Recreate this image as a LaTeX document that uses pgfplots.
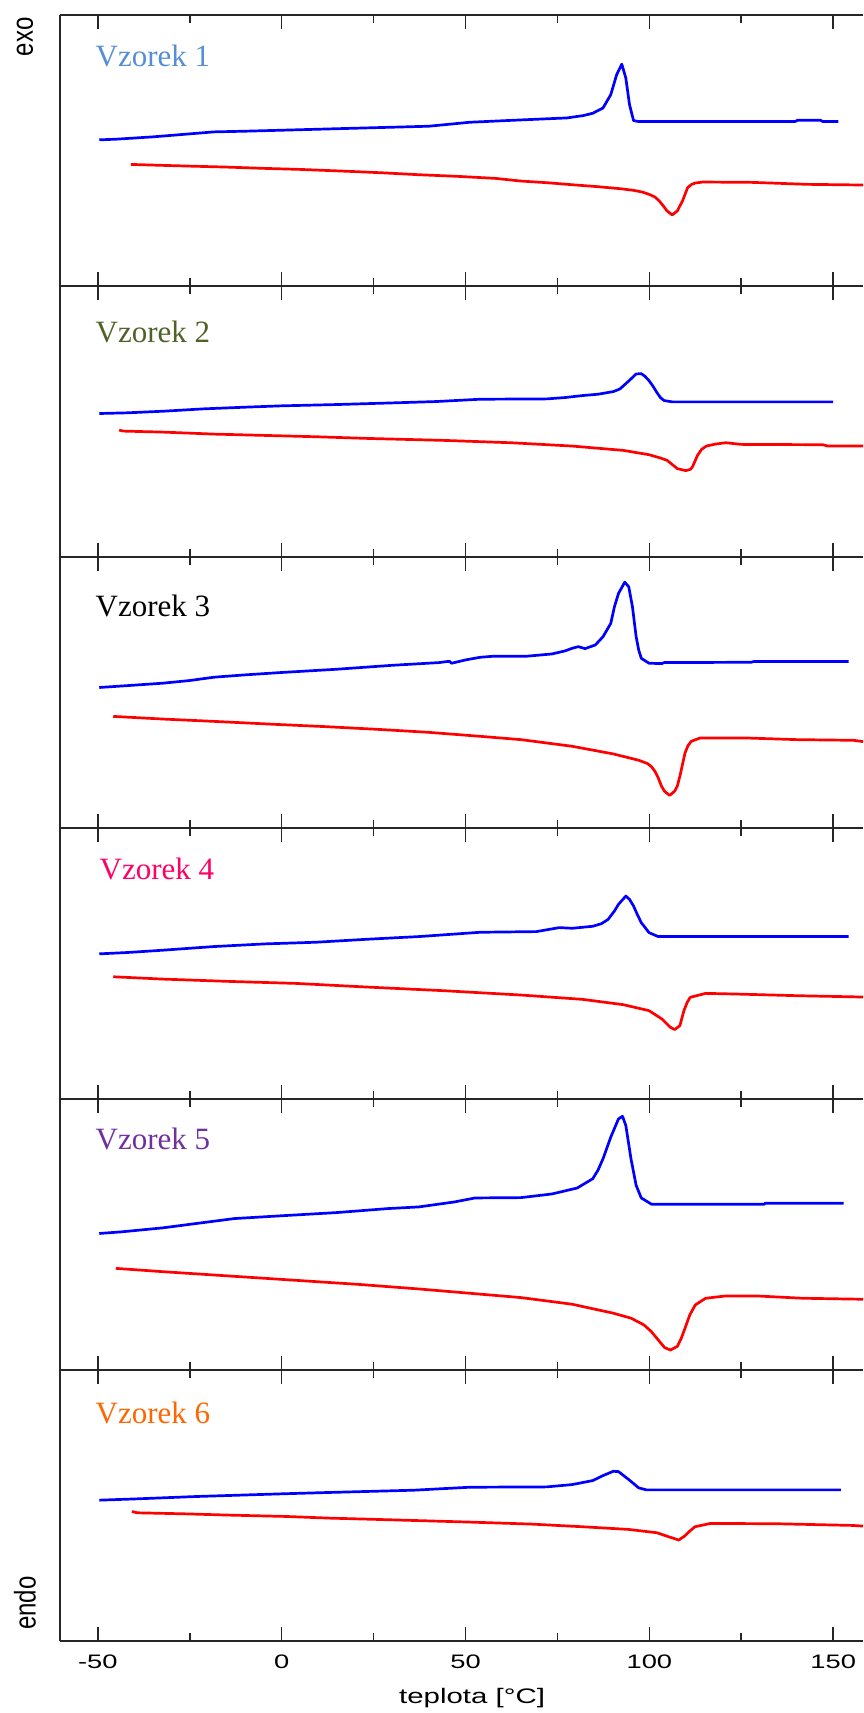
\documentclass[border=0pt]{standalone}
\usepackage{pgfplots}
\pgfplotsset{compat=1.18}
\usepackage{fontspec}
\setmainfont{Liberation Serif}
\newfontfamily\ticksans[FakeStretch=1.4]{Liberation Sans}
\newfontfamily\plainsans{Liberation Sans}
\definecolor{cA}{HTML}{558ED5}
\definecolor{cB}{HTML}{4F6228}
\definecolor{cC}{HTML}{000000}
\definecolor{cD}{HTML}{FF0066}
\definecolor{cE}{HTML}{7030A0}
\definecolor{cF}{HTML}{FF6600}
\tikzset{lab/.style={anchor=base west, inner sep=0pt, font=\fontsize{15.5}{18}\selectfont}}
\pgfplotsset{
  panel/.style={
    scale only axis, width=401.35pt, height=135.5pt,
    anchor=south west,
    clip mode=individual,
    xmin=-60.2, xmax=158.1, ymin=0, ymax=816,
    ytick=\empty,
    xtick={-50,0,50,100,150},
    minor xtick={-25,25,75,125},
    xticklabels={},
    axis y line*=left,
    axis line style={line width=0.8pt, color=black!85},
    tick align=inside,
    major tick length=7pt,
    minor tick length=4pt,
    every tick/.style={line width=0.8pt, color=black!85},
  },
  blu/.style={color=blue, line width=1.35pt, line join=round, no marks},
  rd/.style={color=red, line width=1.35pt, line join=round, no marks},
}
\begin{document}
\begin{tikzpicture}
\useasboundingbox (0,0) rectangle (431.5pt,856.5pt);
% ---------- Vzorek 1
\begin{axis}[panel, at={(30.15pt,713.5pt)}]
\addplot[blu] coordinates {(-49.6,440)(-45,442)(-35,449)(-25,458)(-18.4,464)(-10,466)(0.1,469)(10,472)(23.3,476)(40,481)(51.2,493)(65.1,500)(77.6,506)(82,513)(84.6,520)(87.4,536)(89.5,576)(91.1,636)(92.5,668)(93.6,626)(94.6,546)(95.7,498)(97.1,495)(139.6,495)(140.3,499)(146.5,499)(147.2,495)(151.4,495)};
\addplot[rd] coordinates {(-41,366)(-35,364)(-25.4,361)(-15,358)(-4.5,354)(5,351)(16.4,346)(27,341)(37.3,335)(48,330)(58.1,324)(65,316)(72.1,311)(80,304)(86,299)(92,293)(95.7,288)(98,283)(99.9,276)(101.5,268)(102.7,256)(103.8,241)(104.8,226)(106.2,214)(107.6,226)(108.3,241)(109,256)(109.7,276)(110.4,296)(111.5,306)(112.5,310)(114.5,313)(127.7,312)(133,310)(143,306)(158.1,304)};
\node[lab, text=cA] at (rel axis cs:0.0436,0.809) {Vzorek 1};
\node[rotate=90, inner sep=0pt, font=\plainsans\fontsize{12}{14}\selectfont] at (rel axis cs:-0.044,0.919) {\scalebox{1}[1.25]{exo}};
\end{axis}
% ---------- Vzorek 2
\begin{axis}[panel, at={(30.15pt,578pt)}]
\addplot[blu] coordinates {(-49.6,432)(-42.1,434)(-32,439)(-21.2,446)(-10,451)(-0.3,455)(15,459)(30.3,464)(42,468)(54,475)(72.1,476)(77,480)(81.8,486)(86,490)(90.2,498)(92,506)(93,516)(94.5,531)(96.4,551)(97.8,552)(98.8,544)(99.9,531)(101,514)(102,496)(103,480)(104,471)(106.2,467)(150,467)};
\addplot[rd] coordinates {(-44.2,382)(-43,379)(-32.3,376)(-18.4,370)(-4.5,366)(9.4,362)(23.3,357)(44.2,351)(62.3,344)(79,334)(92.9,321)(99.9,308)(103,298)(104.8,291)(106.5,276)(107.6,266)(109.9,260)(111.2,264)(111.7,271)(112.5,291)(113.1,306)(114.2,324)(115.5,334)(118,340)(120.8,344)(125,339)(147.2,338)(148.5,334)(158.1,334)};
\node[lab, text=cB] at (rel axis cs:0.0436,0.791) {Vzorek 2};
\end{axis}
% ---------- Vzorek 3
\begin{axis}[panel, at={(30.15pt,442.5pt)}]
\addplot[blu] coordinates {(-49.6,423)(-42.8,428)(-32.3,436)(-25,444)(-18.4,454)(-10,461)(-0.3,468)(15,478)(30.3,490)(42.8,498)(45.6,502)(46.2,496)(50,506)(54,514)(57.4,517)(66.5,517)(73.5,524)(77,533)(79,541)(80.7,546)(82.5,540)(85.3,551)(87.4,576)(89.5,616)(90.5,666)(91.6,706)(93.3,740)(94.4,726)(95.4,666)(96.4,576)(97.1,536)(97.8,511)(99.9,496)(103.4,495)(104,498)(127.7,499)(128.3,501)(154.2,501)};
\addplot[rd] coordinates {(-45.8,336)(-32.3,328)(-18.4,321)(-1.7,312)(12.2,305)(26.1,297)(40,288)(54,276)(65.1,266)(79,246)(90.2,223)(97.1,204)(99.5,194)(100.6,184)(101.5,171)(102.4,151)(103.3,126)(104.1,111)(105.5,98)(106.9,111)(107.6,126)(108.3,156)(109,191)(109.7,226)(110.5,248)(111.4,261)(113.8,271)(126.3,271)(140.2,266)(155.6,264)(158.1,260)};
\node[lab, text=cC] at (rel axis cs:0.0436,0.779) {Vzorek 3};
\end{axis}
% ---------- Vzorek 4
\begin{axis}[panel, at={(30.15pt,307pt)}]
\addplot[blu] coordinates {(-49.6,437)(-42,441)(-32.3,448)(-18.4,459)(-4.5,467)(9.4,472)(23.3,481)(37.3,489)(54,502)(69.3,504)(75.5,516)(79,514)(84.6,520)(87,528)(88.8,541)(90.5,566)(91.6,586)(93.6,611)(94.6,601)(95.7,581)(96.7,556)(97.8,531)(99.9,501)(102.4,489)(154.2,489)};
\addplot[rd] coordinates {(-45.8,368)(-32.3,361)(-14.2,354)(3.9,348)(23.3,337)(44.2,326)(65.1,313)(81.8,300)(92.9,284)(99.9,266)(103.4,241)(105.7,216)(106.9,209)(108.3,221)(109.4,266)(110.3,291)(111.1,306)(115.3,318)(123.6,316)(140.2,311)(158.1,307)};
\node[lab, text=cD] at (rel axis cs:0.0486,0.809) {Vzorek 4};
\end{axis}
% ---------- Vzorek 5
\begin{axis}[panel, at={(30.15pt,171.5pt)}]
\addplot[blu] coordinates {(-49.6,411)(-43.5,416)(-32.3,428)(-21.2,444)(-12.8,456)(2.5,466)(15,474)(28.9,486)(37.3,491)(47,506)(52.6,518)(65.1,519)(73.5,530)(80.4,548)(84.6,576)(86,601)(87.4,636)(89.5,701)(91.6,756)(92.7,764)(93.6,736)(94.3,686)(95,636)(96.4,556)(97.8,518)(100.6,499)(131.2,499)(131.5,502)(152.8,502)};
\addplot[rd] coordinates {(-45.1,306)(-32.3,296)(-15.6,284)(2.5,271)(20.6,258)(37.3,244)(51.2,231)(65.1,218)(79,198)(90.2,171)(95,156)(98.5,136)(100.5,116)(102,96)(104.1,68)(105.7,60)(107.6,71)(108.7,96)(109.7,126)(111,166)(112.5,196)(115.3,216)(120.8,223)(129.1,223)(141.7,216)(158.1,213)};
\node[lab, text=cE] at (rel axis cs:0.0436,0.815) {Vzorek 5};
\end{axis}
% ---------- Vzorek 6
\begin{axis}[panel, at={(30.15pt,36pt)},
  xticklabels={-50,0,50,100,150},
  xticklabel style={font=\ticksans\fontsize{9.75}{11}\selectfont, anchor=center, yshift=-10.4pt}]
\addplot[blu] coordinates {(-49.6,424)(-39.3,428)(-23.3,435)(-0.3,443)(12.2,447)(35.9,454)(51.2,463)(72.1,464)(79,471)(84.6,483)(87.4,498)(90.2,511)(91.6,510)(94.4,486)(97.1,461)(99.2,455)(152.1,455)};
\addplot[rd] coordinates {(-40.7,390)(-39.3,386)(-26.8,383)(-14.2,379)(1.1,375)(12.9,370)(26.1,366)(38.7,362)(51.2,358)(67.9,352)(81.8,344)(94.3,336)(102,326)(105.5,313)(108,304)(109.6,316)(111,331)(112.4,344)(116.6,354)(134.7,353)(155.1,348)(158.1,346)};
\node[lab, text=cF] at (rel axis cs:0.0436,0.803) {Vzorek 6};
\node[rotate=90, inner sep=0pt, font=\plainsans\fontsize{12}{14}\selectfont] at (rel axis cs:-0.044,0.140) {\scalebox{1}[1.25]{endo}};
\node[font=\ticksans\fontsize{10.5}{12}\selectfont] at (rel axis cs:0.513,-0.2103) {teplota [°C]};
\end{axis}
\end{tikzpicture}
\end{document}
